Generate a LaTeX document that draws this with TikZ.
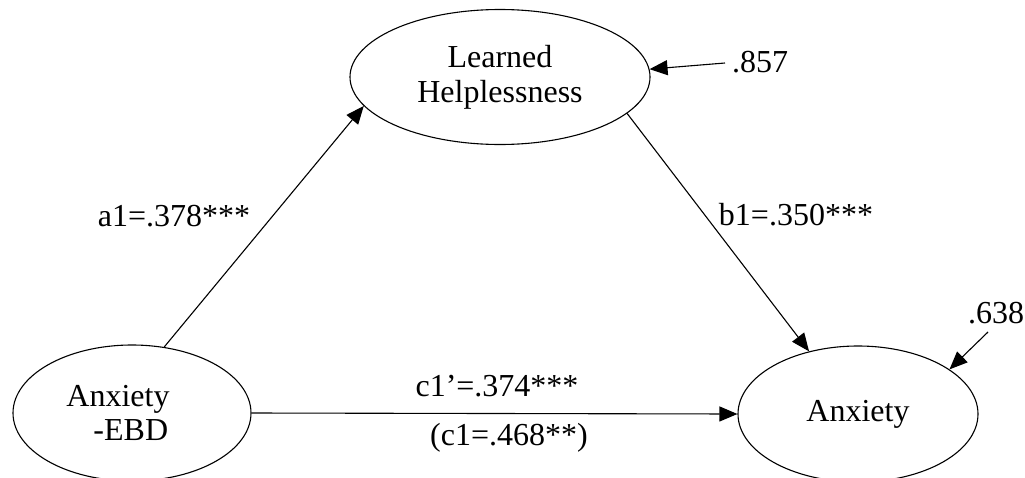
\documentclass[tikz,border=0pt]{standalone}
\usepackage{fontspec}
\setmainfont{Liberation Serif}
\usetikzlibrary{arrows.meta,shapes.geometric}

\begin{document}
\begin{tikzpicture}[x=1pt,y=-1pt,
  every node/.style={font=\fontsize{32}{36}\selectfont},
  latent/.style={draw, ellipse, line width=1.1pt, inner sep=0pt, align=center},
  txt/.style={inner sep=0pt, align=center},
  arr/.style={line width=1.1pt, -{Triangle[length=18pt,width=15pt]}}]

  % canvas
  \useasboundingbox (0,0) rectangle (1025,477);
  \clip (0,0) rectangle (1025,477);

  % latent variables
  \node[latent, minimum width=300pt, minimum height=135pt] (lh) at (500,77)
       {Learned\\[-1pt]Helplessness};
  \node[latent, minimum width=238pt, minimum height=136pt] (ebd) at (132,413) {};
  \node[txt, align=left] (ebdtxt) at (118,413) {Anxiety\\[-2pt]\hspace*{27pt}-EBD};
  \node[latent, minimum width=240pt, minimum height=136pt] (anx) at (858,414) {Anxiety};

  % paths
  \draw[arr] (ebd.64) -- (lh.192);
  \draw[arr] (lh.344) -- (anx.128);
  \draw[arr] (ebd.east) -- (anx.west);

  % disturbance terms
  \coordinate (e1) at (725,63);
  \coordinate (e2) at (988,332);
  \draw[arr] (e1) -- (lh.3);
  \draw[arr] (e2) -- (anx.26);

  % coefficients
  \node[txt] (la) at (174,216) {a1=.378***};
  \node[txt] (lb) at (796,215) {b1=.350***};
  \node[txt] (lc) at (497,386) {c1’=.374***};
  \node[txt] (ltot) at (509,438) {(c1=.468**)};
  \node[txt] (d1) at (760,62) {.857};
  \node[txt] (d2) at (996,313) {.638};
\end{tikzpicture}
\end{document}
